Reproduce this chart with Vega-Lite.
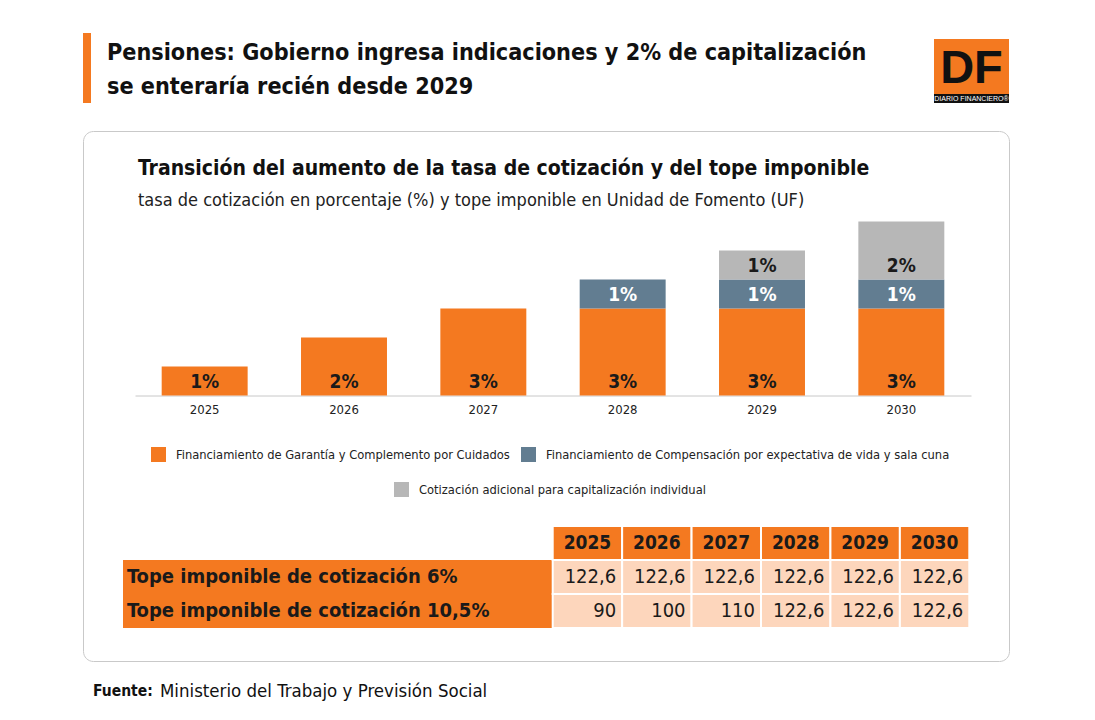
{
  "$schema": "https://vega.github.io/schema/vega-lite/v6.json",
  "background": "white",
  "padding": {"left": 82, "top": 30, "right": 0, "bottom": 0},
  "spacing": 19,
  "config": {
    "view": {"stroke": null},
    "font": "DejaVu Sans Condensed, sans-serif",
    "locale": {"number": {"decimal": ",", "thousands": ".", "grouping": [3], "currency": ["$", ""]}}
  },
  "datasets": {
    "tasas": [
      {"anio": 2025, "componente": "Financiamiento de Garantía y Complemento por Cuidados", "tasa": 0.01},
      {"anio": 2026, "componente": "Financiamiento de Garantía y Complemento por Cuidados", "tasa": 0.02},
      {"anio": 2027, "componente": "Financiamiento de Garantía y Complemento por Cuidados", "tasa": 0.03},
      {"anio": 2028, "componente": "Financiamiento de Garantía y Complemento por Cuidados", "tasa": 0.03},
      {"anio": 2028, "componente": "Financiamiento de Compensación por expectativa de vida y sala cuna", "tasa": 0.01},
      {"anio": 2029, "componente": "Financiamiento de Garantía y Complemento por Cuidados", "tasa": 0.03},
      {"anio": 2029, "componente": "Financiamiento de Compensación por expectativa de vida y sala cuna", "tasa": 0.01},
      {"anio": 2029, "componente": "Cotización adicional para capitalización individual", "tasa": 0.01},
      {"anio": 2030, "componente": "Financiamiento de Garantía y Complemento por Cuidados", "tasa": 0.03},
      {"anio": 2030, "componente": "Financiamiento de Compensación por expectativa de vida y sala cuna", "tasa": 0.01},
      {"anio": 2030, "componente": "Cotización adicional para capitalización individual", "tasa": 0.02}
    ],
    "topes": [
      {"fila": "Tope imponible de cotización 6%", "anio": 2025, "tope": 122.6},
      {"fila": "Tope imponible de cotización 6%", "anio": 2026, "tope": 122.6},
      {"fila": "Tope imponible de cotización 6%", "anio": 2027, "tope": 122.6},
      {"fila": "Tope imponible de cotización 6%", "anio": 2028, "tope": 122.6},
      {"fila": "Tope imponible de cotización 6%", "anio": 2029, "tope": 122.6},
      {"fila": "Tope imponible de cotización 6%", "anio": 2030, "tope": 122.6},
      {"fila": "Tope imponible de cotización 10,5%", "anio": 2025, "tope": 90},
      {"fila": "Tope imponible de cotización 10,5%", "anio": 2026, "tope": 100},
      {"fila": "Tope imponible de cotización 10,5%", "anio": 2027, "tope": 110},
      {"fila": "Tope imponible de cotización 10,5%", "anio": 2028, "tope": 122.6},
      {"fila": "Tope imponible de cotización 10,5%", "anio": 2029, "tope": 122.6},
      {"fila": "Tope imponible de cotización 10,5%", "anio": 2030, "tope": 122.6}
    ]
  },
  "vconcat": [
    {
      "hconcat": [
        {
          "width": 8,
          "height": 70,
          "view": {"fill": "#f47920", "stroke": null},
          "data": {"values": [{}]},
          "mark": {"type": "text", "text": ""},
          "title": {
            "text": ["Pensiones: Gobierno ingresa indicaciones y 2% de capitalización", "se enteraría recién desde 2029"],
            "anchor": "start",
            "frame": "group",
            "dx": 24,
            "offset": -66,
            "fontSize": 23.2,
            "lineHeight": 34,
            "fontWeight": "bold",
            "color": "#111111"
          }
        },
        {
          "vconcat": [
            {
              "width": 75,
              "height": 6,
              "data": {"values": [{}]},
              "mark": {"type": "text", "text": ""}
            },
            {
              "width": 75,
              "height": 55,
              "view": {"fill": "#f47920", "stroke": null},
              "data": {"values": [{}]},
              "mark": {"type": "text", "text": "DF", "fontSize": 47, "fontWeight": "bold", "font": "Liberation Sans", "color": "#111111", "baseline": "middle", "align": "center", "dy": 2}
            },
            {
              "width": 75,
              "height": 9,
              "view": {"fill": "#111111", "stroke": null},
              "data": {"values": [{}]},
              "mark": {"type": "text", "text": "DIARIO FINANCIERO®", "fontSize": 7, "font": "Liberation Sans", "color": "white", "baseline": "middle", "align": "center"}
            },
            {
              "width": 75,
              "height": 5,
              "data": {"values": [{}]},
              "mark": {"type": "text", "text": ""}
            }
          ],
          "spacing": 0,
          "bounds": "flush"
        }
      ],
      "spacing": 843,
      "bounds": "flush"
    },
    {
      "width": 926,
      "height": 530,
      "view": {"stroke": "#c9c9c9", "strokeWidth": 1, "cornerRadius": 10, "fill": "white"},
      "title": {
        "text": "Transición del aumento de la tasa de cotización y del tope imponible",
        "subtitle": "tasa de cotización en porcentaje (%) y tope imponible en Unidad de Fomento (UF)",
        "anchor": "start",
        "frame": "group",
        "dx": 55,
        "offset": -79,
        "fontSize": 21,
        "fontWeight": "bold",
        "color": "#111111",
        "subtitleFontSize": 18,
        "subtitleColor": "#222222",
        "subtitlePadding": 13
      },
      "layer": [
        {
          "data": {"name": "tasas"},
          "transform": [
            {"stack": "tasa", "groupby": ["anio"], "sort": [{"field": "componente", "order": "descending"}], "as": ["y0", "y1"]},
            {"filter": "datum.componente !== 'Cotización adicional para capitalización individual'"}
          ],
          "mark": {"type": "bar"},
          "encoding": {
            "x": {
              "field": "anio", "type": "ordinal",
              "scale": {"type": "band", "domain": [2025, 2026, 2027, 2028, 2029, 2030], "range": [52, 888], "paddingInner": 0.383, "paddingOuter": 0.1915},
              "axis": {"title": null, "orient": "bottom", "offset": -265.5, "domainColor": "#c8c8c8", "ticks": false, "grid": false, "labelAngle": 0, "labelFontSize": 13, "labelPadding": 8, "labelColor": "#222222"}
            },
            "y": {"field": "y0", "type": "quantitative", "scale": {"domain": [0, 0.06], "range": [264.5, 90.5], "nice": false, "zero": true}, "axis": null},
            "y2": {"field": "y1"},
            "color": {
              "field": "componente", "type": "nominal",
              "scale": {"domain": ["Financiamiento de Garantía y Complemento por Cuidados", "Financiamiento de Compensación por expectativa de vida y sala cuna"], "range": ["#f47920", "#627d91"]},
              "legend": {"title": null, "orient": "none", "legendX": 68, "legendY": 316, "direction": "horizontal", "symbolType": "square", "symbolSize": 225, "symbolStrokeWidth": 0, "labelFontSize": 12.8, "labelColor": "#222222", "labelOffset": 10, "columnPadding": 11, "labelLimit": 0}
            }
          }
        },
        {
          "data": {"name": "tasas"},
          "transform": [
            {"stack": "tasa", "groupby": ["anio"], "sort": [{"field": "componente", "order": "descending"}], "as": ["y0", "y1"]},
            {"filter": "datum.componente === 'Cotización adicional para capitalización individual'"}
          ],
          "mark": {"type": "bar"},
          "encoding": {
            "x": {"field": "anio", "type": "ordinal", "scale": {"type": "band", "domain": [2025, 2026, 2027, 2028, 2029, 2030], "range": [52, 888], "paddingInner": 0.383, "paddingOuter": 0.1915}, "axis": null},
            "y": {"field": "y0", "type": "quantitative", "scale": {"domain": [0, 0.06], "range": [264.5, 90.5], "nice": false, "zero": true}, "axis": null},
            "y2": {"field": "y1"},
            "color": {
              "field": "componente", "type": "nominal",
              "scale": {"domain": ["Cotización adicional para capitalización individual"], "range": ["#b7b7b7"]},
              "legend": {"title": null, "orient": "none", "legendX": 311, "legendY": 351, "direction": "horizontal", "symbolType": "square", "symbolSize": 225, "symbolStrokeWidth": 0, "labelFontSize": 12.8, "labelColor": "#222222", "labelOffset": 10, "labelLimit": 0}
            }
          }
        },
        {
          "data": {"name": "tasas"},
          "transform": [
            {"stack": "tasa", "groupby": ["anio"], "sort": [{"field": "componente", "order": "descending"}], "as": ["y0", "y1"]}
          ],
          "mark": {"type": "text", "fontSize": 19, "fontWeight": "bold", "baseline": "middle", "dy": -13.5},
          "encoding": {
            "x": {"field": "anio", "type": "ordinal", "scale": {"type": "band", "domain": [2025, 2026, 2027, 2028, 2029, 2030], "range": [52, 888], "paddingInner": 0.383, "paddingOuter": 0.1915}, "axis": null},
            "y": {"field": "y0", "type": "quantitative", "scale": {"domain": [0, 0.06], "range": [264.5, 90.5], "nice": false, "zero": true}, "axis": null},
            "text": {"field": "tasa", "type": "quantitative", "format": ".0%"},
            "color": {"condition": {"test": "datum.componente === 'Financiamiento de Compensación por expectativa de vida y sala cuna'", "value": "white"}, "value": "#1a1a1a"}
          }
        },
        {
          "data": {"name": "topes"},
          "transform": [{"filter": "datum.anio === 2025"}],
          "mark": {"type": "rect", "color": "#f47920"},
          "encoding": {
            "x": {"datum": "etiqueta", "type": "nominal", "scale": {"type": "band", "domain": ["etiqueta"], "range": [40, 469.7], "paddingInner": 0, "paddingOuter": 0}, "axis": null},
            "y": {"field": "fila", "type": "nominal", "scale": {"type": "band", "domain": ["encabezado", "Tope imponible de cotización 6%", "Tope imponible de cotización 10,5%"], "range": [395, 497], "paddingInner": 0, "paddingOuter": 0}, "axis": null}
          }
        },
        {
          "data": {"name": "topes"},
          "transform": [{"filter": "datum.anio === 2025"}],
          "mark": {"type": "text", "align": "left", "baseline": "middle", "dx": 4, "fontSize": 20, "fontWeight": "bold", "color": "#1a1a1a"},
          "encoding": {
            "x": {"datum": "etiqueta", "type": "nominal", "bandPosition": 0, "scale": {"type": "band", "domain": ["etiqueta"], "range": [40, 469.7], "paddingInner": 0, "paddingOuter": 0}, "axis": null},
            "y": {"field": "fila", "type": "nominal", "scale": {"type": "band", "domain": ["encabezado", "Tope imponible de cotización 6%", "Tope imponible de cotización 10,5%"], "range": [395, 497], "paddingInner": 0, "paddingOuter": 0}, "axis": null},
            "text": {"field": "fila"}
          }
        },
        {
          "data": {"name": "topes"},
          "mark": {"type": "rect", "color": "#fdd6bc", "stroke": "white", "strokeWidth": 2},
          "encoding": {
            "x": {"field": "anio", "type": "ordinal", "scale": {"type": "band", "domain": [2025, 2026, 2027, 2028, 2029, 2030], "range": [469.7, 886.3], "paddingInner": 0, "paddingOuter": 0}, "axis": null},
            "y": {"field": "fila", "type": "nominal", "scale": {"type": "band", "domain": ["encabezado", "Tope imponible de cotización 6%", "Tope imponible de cotización 10,5%"], "range": [395, 497], "paddingInner": 0, "paddingOuter": 0}, "axis": null}
          }
        },
        {
          "data": {"name": "topes"},
          "transform": [{"filter": "datum.fila === 'Tope imponible de cotización 6%'"}],
          "mark": {"type": "rect", "color": "#f47920", "stroke": "white", "strokeWidth": 2},
          "encoding": {
            "x": {"field": "anio", "type": "ordinal", "scale": {"type": "band", "domain": [2025, 2026, 2027, 2028, 2029, 2030], "range": [469.7, 886.3], "paddingInner": 0, "paddingOuter": 0}, "axis": null},
            "y": {"datum": "encabezado", "type": "nominal", "scale": {"type": "band", "domain": ["encabezado", "Tope imponible de cotización 6%", "Tope imponible de cotización 10,5%"], "range": [395, 497], "paddingInner": 0, "paddingOuter": 0}, "axis": null}
          }
        },
        {
          "data": {"name": "topes"},
          "transform": [{"filter": "datum.fila === 'Tope imponible de cotización 6%'"}],
          "mark": {"type": "text", "align": "center", "baseline": "middle", "fontSize": 19, "fontWeight": "bold", "color": "#1a1a1a"},
          "encoding": {
            "x": {"field": "anio", "type": "ordinal", "scale": {"type": "band", "domain": [2025, 2026, 2027, 2028, 2029, 2030], "range": [469.7, 886.3], "paddingInner": 0, "paddingOuter": 0}, "axis": null},
            "y": {"datum": "encabezado", "type": "nominal", "scale": {"type": "band", "domain": ["encabezado", "Tope imponible de cotización 6%", "Tope imponible de cotización 10,5%"], "range": [395, 497], "paddingInner": 0, "paddingOuter": 0}, "axis": null},
            "text": {"field": "anio"}
          }
        },
        {
          "data": {"name": "topes"},
          "mark": {"type": "text", "align": "right", "baseline": "middle", "dx": -6, "fontSize": 20, "color": "#1a1a1a"},
          "encoding": {
            "x": {"field": "anio", "type": "ordinal", "bandPosition": 1, "scale": {"type": "band", "domain": [2025, 2026, 2027, 2028, 2029, 2030], "range": [469.7, 886.3], "paddingInner": 0, "paddingOuter": 0}, "axis": null},
            "y": {"field": "fila", "type": "nominal", "scale": {"type": "band", "domain": ["encabezado", "Tope imponible de cotización 6%", "Tope imponible de cotización 10,5%"], "range": [395, 497], "paddingInner": 0, "paddingOuter": 0}, "axis": null},
            "text": {"field": "tope", "type": "quantitative", "format": ".1~f"}
          }
        }
      ],
      "resolve": {
        "scale": {"x": "independent", "y": "independent", "color": "independent"},
        "axis": {"x": "independent", "y": "independent"},
        "legend": {"color": "independent"}
      }
    },
    {
      "width": 20,
      "height": 20,
      "data": {"values": [{"fuente": "Ministerio del Trabajo y Previsión Social"}]},
      "layer": [
        {"mark": {"type": "text", "text": "Fuente:", "align": "left", "baseline": "middle", "fontWeight": "bold", "fontSize": 15.5, "color": "#111111"}},
        {"mark": {"type": "text", "align": "left", "baseline": "middle", "fontSize": 18.5, "dx": 67, "color": "#111111"}, "encoding": {"text": {"field": "fuente"}}}
      ]
    }
  ]
}
